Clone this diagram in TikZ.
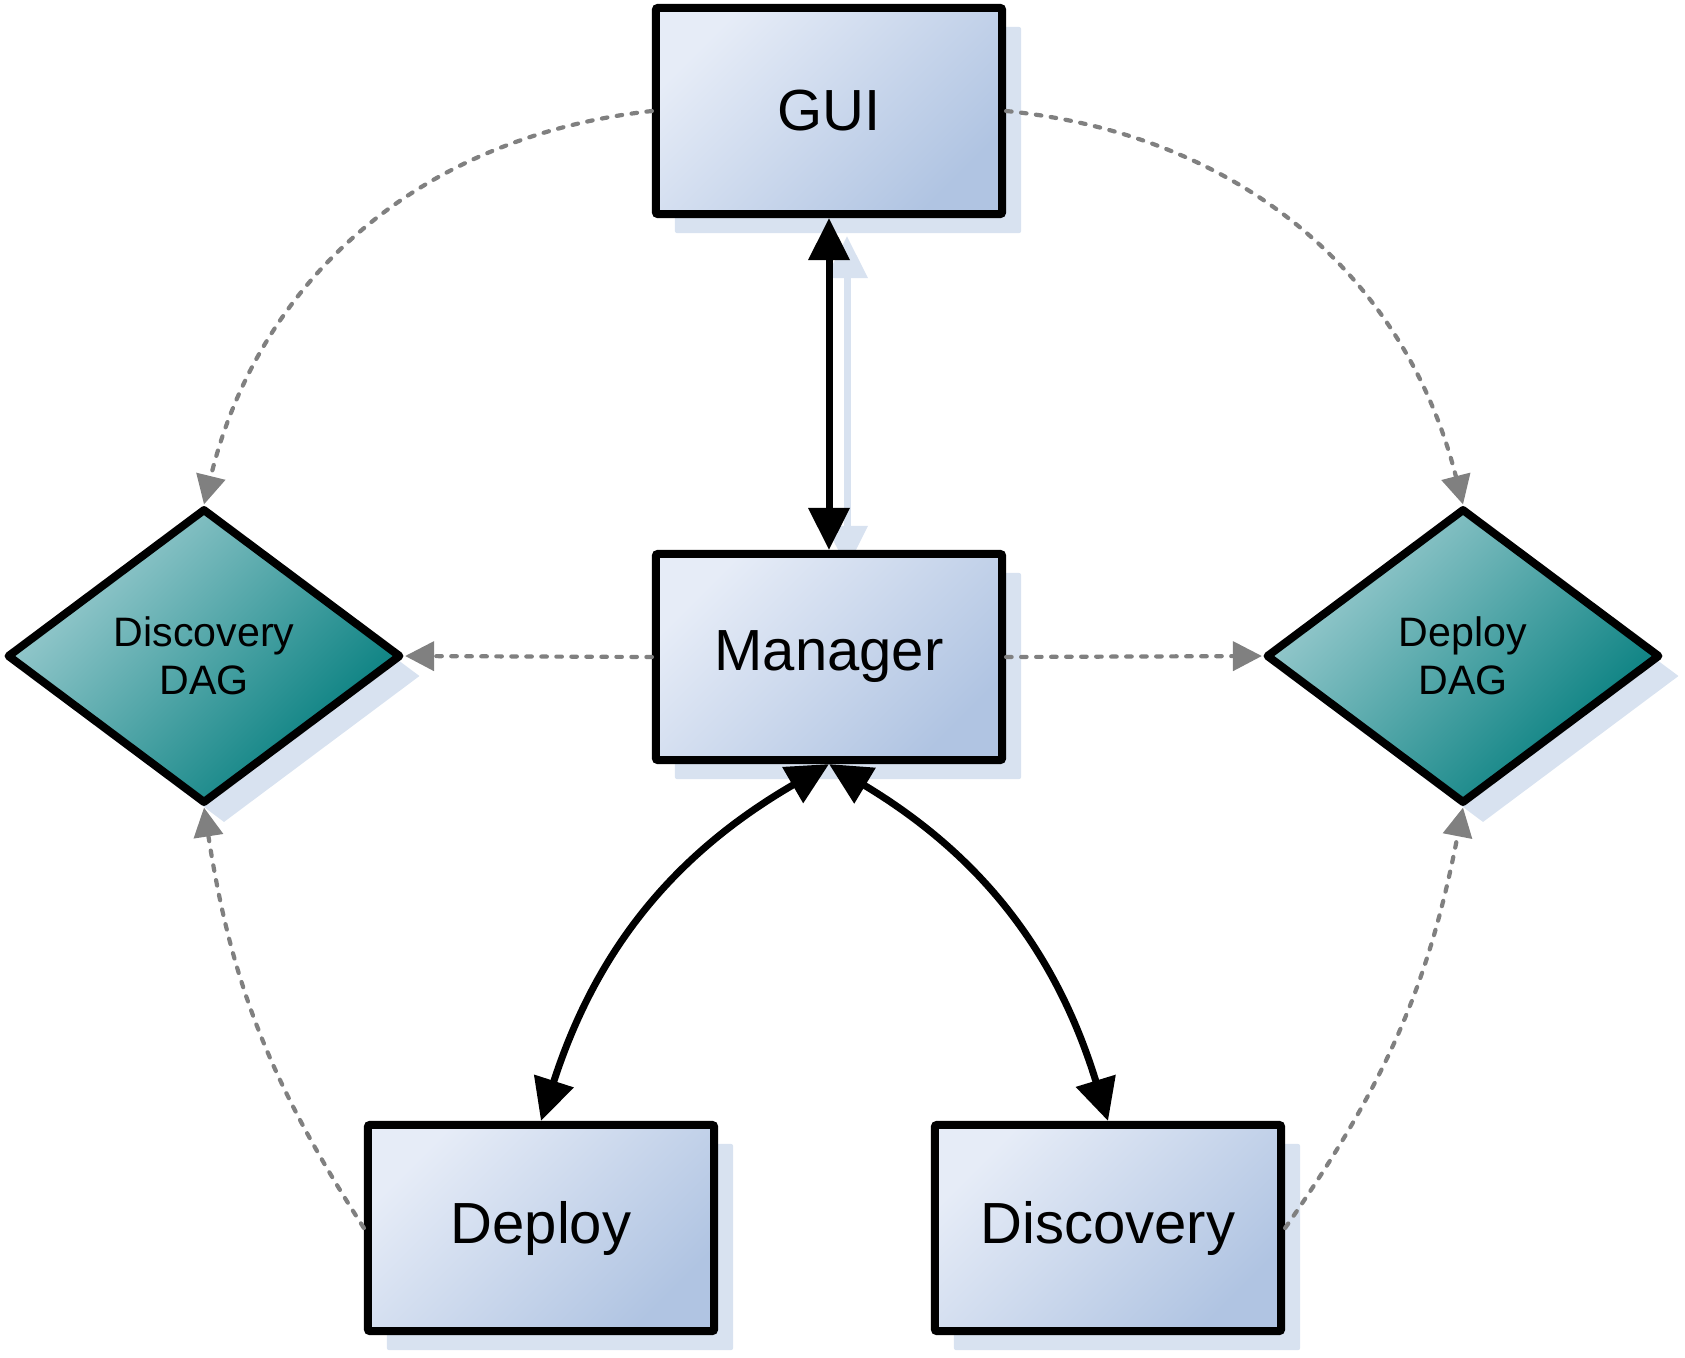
\documentclass[tikz,border=0pt]{standalone}
\usepackage{fontspec}
\setmainfont{Liberation Sans}
\usetikzlibrary{shapes.geometric,arrows.meta,shadows,backgrounds}
\definecolor{boxlight}{RGB}{230,236,247}
\definecolor{boxdark}{RGB}{176,196,226}
\definecolor{teallight}{RGB}{160,206,210}
\definecolor{tealdark}{RGB}{0,124,124}
\definecolor{shadowc}{RGB}{216,226,240}
\definecolor{dashgray}{RGB}{128,128,128}
\begin{document}
\begin{tikzpicture}[x=0.01cm,y=-0.01cm,
  box/.style={draw=black, line width=0.08cm, rounded corners=0.02cm,
    minimum width=3.46cm, minimum height=2.06cm, inner sep=0pt,
    top color=boxlight, bottom color=boxdark, shading angle=45,
    drop shadow={shadow xshift=0.19cm, shadow yshift=-0.19cm, fill=shadowc, opacity=1},
    font=\fontsize{16.5}{20}\selectfont},
  dag/.style={diamond, draw=black, line width=0.08cm, line join=round,
    minimum width=3.94cm, minimum height=2.95cm, inner sep=0pt,
    top color=teallight, bottom color=tealdark, shading angle=45,
    drop shadow={shadow xshift=0.2cm, shadow yshift=-0.2cm, fill=shadowc, opacity=1},
    align=center, font=\fontsize{11.7}{13.7}\selectfont},
  biarrow/.style={draw=black, line width=0.07cm,
    {Triangle[length=0.42cm,width=0.40cm]}-{Triangle[length=0.42cm,width=0.40cm]}},
  dashc/.style={draw=dashgray, line width=0.042cm, line cap=round,
    dash pattern=on 0.055cm off 0.095cm,
    -{Triangle[length=0.29cm,width=0.29cm]}}
]
\useasboundingbox (0,0) rectangle (1685,1357);

\node[box] (GUI) at (829,111) {GUI};
\node[box] (Man) at (829,657) {Manager};
\node[box] (Dep) at (541,1228) {Deploy};
\node[box] (Dis) at (1108,1228) {Discovery};
\node[dag] (DDAG) at (204,656) {Discovery\\DAG};
\node[dag] (PDAG) at (1463,656) {Deploy\\DAG};

\begin{scope}[on background layer]
\draw[biarrow, draw=shadowc] ([shift={(18,18)}]GUI.south) -- ([shift={(18,18)}]Man.north);
\end{scope}

\draw[biarrow] (GUI) -- (Man);
\draw[biarrow] (Man.south) to[bend right=21] (Dep.north);
\draw[biarrow] (Man.south) to[bend left=21] (Dis.north);

\draw[dashc] (GUI.west) to[bend right=35] (DDAG.north);
\draw[dashc] (GUI.east) to[bend left=35] (PDAG.north);
\draw[dashc] (Man.west) -- (DDAG.east);
\draw[dashc] (Man.east) -- (PDAG.west);
\draw[dashc] (Dep.west) to[bend left=12] (DDAG.south);
\draw[dashc] (Dis.east) to[bend right=12] (PDAG.south);
\end{tikzpicture}
\end{document}
